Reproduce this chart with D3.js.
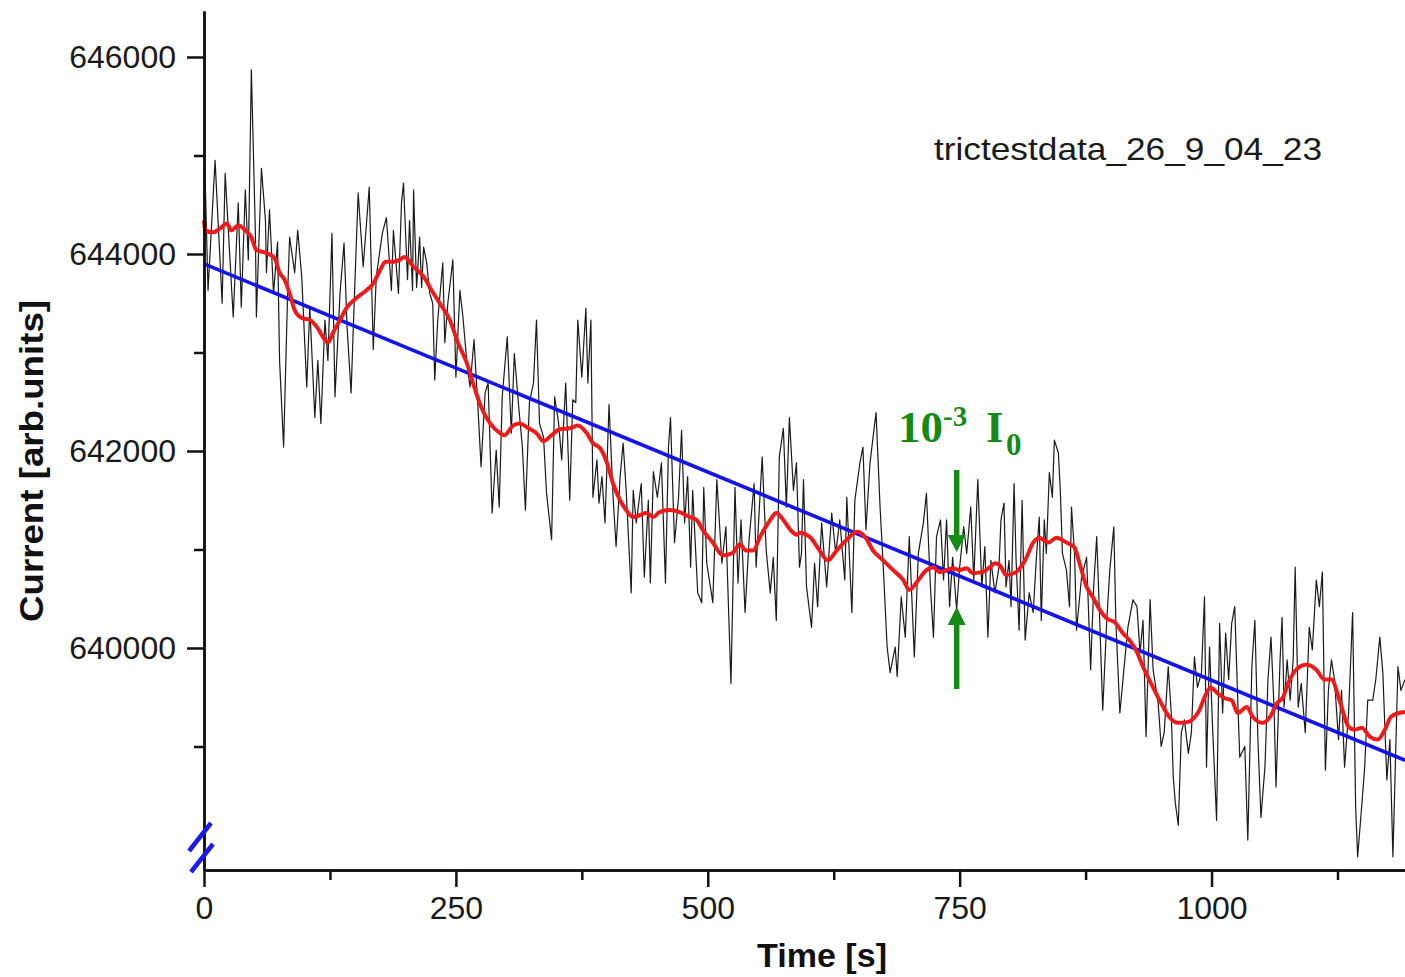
<!DOCTYPE html>
<html>
<head>
<meta charset="utf-8">
<script src="https://cdn.jsdelivr.net/npm/d3@7"></script>
<style>
  body { margin: 0; background: #fff; }
  svg { display: block; }
</style>
</head>
<body>
<div id="chart"></div>
<script>
var svgWidth = 1405;
var svgHeight = 977;

var noiseTime = [0,1,4,11,18,21,24,29,34,37,41,44,47,51,52,57,61,62,65,69,73,75,79,83,85,90,93,97,102,105,110,113,116,120,123,127,130,135,139,142,146,148,153,158,164,168,171,177,181,186,188,193,
  196,198,202,204,207,208,211,214,216,218,221,224,227,229,232,237,239,242,247,250,254,257,261,264,268,272,275,279,282,286,290,293,296,301,305,308,312,316,319,323,327,330,333,337,340,345,348,352,355,359,363,366,369,371,375,379,381,384,386,390,392,
  395,398,402,406,409,413,416,419,424,426,429,434,437,441,443,446,450,454,458,461,463,467,471,474,477,480,483,485,490,494,496,499,505,509,514,518,523,527,530,533,537,541,546,548,554,558,562,565,568,571,575,578,581,585,588,591,
  593,595,598,603,606,609,613,618,623,627,631,636,638,643,646,651,654,657,661,667,671,674,678,681,686,688,692,696,700,705,709,714,717,721,724,727,731,734,737,740,743,747,750,754,757,761,764,768,772,775,778,781,785,789,
  791,794,796,799,801,804,806,809,812,815,819,823,826,829,831,834,836,839,842,844,848,850,852,856,859,861,864,866,871,876,880,883,886,889,892,896,899,903,905,909,913,917,922,926,929,932,935,939,942,947,950,953,957,960,962,964,967,970,973,977,980,983,986,
  990,993,995,998,1001,1005,1008,1011,1014,1017,1020,1023,1026,1028,1033,1036,1040,1043,1046,1049,1053,1056,1059,1062,1064,1068,1070,1072,1075,1078,1081,1083,1086,1089,1093,1097,1100,1104,1107,1110,1113,1116,1119,1122,1126,1129,1132,1136,1140,1143,1145,1149,1152,1155,1160,1163,1167,1170,1174,1177,1180,1185,1188,1192];
var noiseCurrent = [644200,644820,643630,644950,643500,644820,644270,643360,644520,643460,644650,643940,645870,644210,643360,644870,644340,643810,644450,643600,644120,642920,642040,643600,644170,643810,644240,643770,642650,643460,642340,642920,642280,643330,642920,644210,642550,643600,644110,643260,642590,643200,644620,643870,644680,643030,643770,644210,644370,643630,644240,643600,
  644520,644720,643740,644340,643630,644650,643660,644170,643660,644070,643910,643600,643500,642720,643330,643910,643100,643500,643940,642750,643630,643360,642890,642650,643130,642420,641840,642590,642690,641370,642010,641430,642550,643160,642180,642990,642490,642040,641400,642490,642690,643330,642280,642140,641570,641100,642550,642280,641910,642690,641500,642520,642490,643330,642750,643450,642690,643330,641530,641910,641470,
  641740,641270,642470,641530,641030,641740,642080,641600,640560,641600,641270,641670,640720,641500,640660,641790,641530,641880,640660,642040,642340,641070,641530,642210,641270,641740,640820,641600,640560,640460,641630,640860,640460,641710,640860,641230,639640,641630,640660,641300,640360,641100,641670,640820,641940,640990,640560,640920,640280,641940,642230,641430,642340,641600,641880,640820,
  640960,641710,640620,640210,640860,640420,641270,640620,641370,640960,641300,640690,641530,640360,641500,641880,642040,641200,641880,642390,641430,640860,640010,639750,640010,639710,640520,640110,641130,639910,640960,641270,641570,640620,640110,641130,641300,640690,641300,640420,640920,640390,640820,641230,640960,641430,640690,641710,640620,641030,640110,640890,640560,640820,
  641300,641470,640620,640890,640420,641670,640890,640180,641500,640080,640560,640360,640890,641330,640280,641300,640960,641780,641530,642110,641980,641570,640960,640790,640420,641430,640960,640180,640720,640920,639780,640620,641130,640280,639370,640280,640790,641230,640280,639340,639780,640210,640490,640420,639950,640280,639100,640490,639780,639440,639000,639140,639810,639340,638690,638430,638200,639140,639270,638930,639140,639910,639600,
  639750,640520,638790,640010,639200,638250,640250,639340,640150,639680,640250,640420,639470,638890,639000,638050,639810,640280,639070,638280,638790,639680,640110,639400,638590,639880,640310,639400,639880,639470,639880,640820,639400,639640,639140,640210,639980,640690,640420,640770,638760,639570,639880,639680,639070,639570,638790,639340,640360,638390,637880,638390,638790,639470,639470,639680,640110,639750,638660,639070,637880,639810,639570,639680];

// smoothed trace (red)
var smoothTime = [0,1,9,16,23,27,34,41,47,52,62,70,75,80,85,90,97,105,112,118,123,128,135,142,151,161,168,175,180,188,194,199,208,218,226,234,244,252,261,267,275,284,294,298,307,313,322,330,337,345,353,363,371,380,386,393,
  400,406,413,419,426,433,439,446,452,462,472,482,489,495,505,515,524,532,538,545,552,562,568,575,582,588,591,601,611,619,628,638,648,656,664,674,684,694,700,709,717,724,730,737,743,750,757,763,772,780,785,790,
  796,806,815,823,829,838,846,856,864,869,876,882,889,896,904,912,920,925,932,942,950,958,967,977,985,988,993,999,1006,1013,1020,1026,1035,1041,1051,1058,1065,1071,1076,1084,1094,1104,1112,1119,1127,1136,1142,1149,1157,1165,1172,1178,1186,1192];
var smoothCurrent = [644340,644240,644220,644260,644310,644240,644290,644240,644170,644040,644010,643960,643810,643740,643600,643430,643350,643330,643260,643160,643100,643200,643330,643460,643550,643630,643700,643840,643920,643920,643940,643970,643870,643770,643630,643500,643330,643100,642890,642690,642450,642280,642180,642160,642260,642280,642230,642180,642100,642160,642220,642230,642260,642180,642080,642030,
  641880,641670,641500,641400,641330,641350,641370,641330,641380,641400,641380,641330,641300,641200,641070,640940,640960,641050,640990,640990,641130,641300,641370,641300,641200,641150,641170,641130,640990,640890,640990,641100,641180,641130,640990,640890,640790,640690,640590,640690,640790,640820,640770,640790,640810,640790,640810,640760,640770,640820,640860,640840,
  640740,640770,640890,641070,641120,641070,641120,641070,641020,640860,640620,640520,640390,640300,640260,640150,640060,639980,639810,639600,639440,639300,639240,639250,639320,639370,639500,639600,639540,639490,639470,639340,639400,639300,639240,639300,639440,639500,639640,639780,639830,639780,639680,639680,639470,639200,639170,639190,639100,639070,639170,639300,639340,639350];

// linear fit (blue)
var fitTime = [0, 1192];
var fitCurrent = [643900, 638860];

var xMajorTicks = [0, 250, 500, 750, 1000];
var xMinorTicks = [125, 375, 625, 875, 1125];
var yMajorTicks = [640000, 642000, 644000, 646000];
var yMinorTicks = [639000, 641000, 643000, 645000];

var svg = d3.select("#chart")
  .append("svg")
  .attr("width", svgWidth)
  .attr("height", svgHeight);

svg.append("rect").attr("width", svgWidth).attr("height", svgHeight).attr("fill", "#fff");

var x = d3.scaleLinear().domain([0, 1192]).range([204, 1405]);
var y = d3.scaleLinear().domain([637746, 646467]).range([870, 11]);

var line = d3.line()
  .x(d => x(d[0]))
  .y(d => y(d[1]));

// data lines
svg.append("path")
  .datum(noiseTime.map((t, i) => [t, noiseCurrent[i]]))
  .attr("d", line)
  .attr("fill", "none")
  .attr("stroke", "#1a1a1a")
  .attr("stroke-width", 1.2)
  .attr("stroke-linejoin", "round");

svg.append("path")
  .datum(fitTime.map((t, i) => [t, fitCurrent[i]]))
  .attr("d", line)
  .attr("fill", "none")
  .attr("stroke", "#1414e6")
  .attr("stroke-width", 3.6);

svg.append("path")
  .datum(smoothTime.map((t, i) => [t, smoothCurrent[i]]))
  .attr("d", d3.line().x(d => x(d[0])).y(d => y(d[1])).curve(d3.curveMonotoneX))
  .attr("fill", "none")
  .attr("stroke", "#ec1c1c")
  .attr("stroke-width", 4)
  .attr("stroke-linejoin", "round");

// axes
function styleAxis(g) {
  g.selectAll("path, line").attr("stroke", "#111").attr("stroke-width", 2.5);
  g.selectAll("text")
    .attr("fill", "#1a1a1a")
    .style("font-family", "'Liberation Sans', Arial, sans-serif")
    .style("font-size", "32px");
}

svg.append("g")
  .attr("transform", "translate(204,0)")
  .call(d3.axisLeft(y).tickValues(yMinorTicks).tickSize(10).tickSizeOuter(0).tickFormat(""))
  .call(styleAxis);

svg.append("g")
  .attr("transform", "translate(204,0)")
  .call(d3.axisLeft(y).tickValues(yMajorTicks).tickSize(17).tickPadding(11).tickSizeOuter(0).tickFormat(d3.format("d")))
  .call(styleAxis);

svg.append("g")
  .attr("transform", "translate(0,870)")
  .call(d3.axisBottom(x).tickValues(xMinorTicks).tickSize(10).tickSizeOuter(0).tickFormat(""))
  .call(styleAxis);

svg.append("g")
  .attr("transform", "translate(0,870)")
  .call(d3.axisBottom(x).tickValues(xMajorTicks).tickSize(17).tickPadding(9).tickSizeOuter(0).tickFormat(d3.format("d")))
  .call(styleAxis);

// axis titles
svg.append("text")
  .attr("x", 822)
  .attr("y", 967)
  .attr("text-anchor", "middle")
  .attr("textLength", 130)
  .attr("lengthAdjust", "spacingAndGlyphs")
  .style("font-family", "'Liberation Sans', Arial, sans-serif")
  .style("font-weight", "bold")
  .style("font-size", "34px")
  .attr("fill", "#111")
  .text("Time [s]");

svg.append("text")
  .attr("transform", "translate(43,461) rotate(-90)")
  .attr("text-anchor", "middle")
  .attr("textLength", 322)
  .attr("lengthAdjust", "spacingAndGlyphs")
  .style("font-family", "'Liberation Sans', Arial, sans-serif")
  .style("font-weight", "bold")
  .style("font-size", "34px")
  .attr("fill", "#111")
  .text("Current [arb.units]");

// data set name
svg.append("text")
  .attr("x", 934)
  .attr("y", 160)
  .attr("textLength", 388)
  .attr("lengthAdjust", "spacingAndGlyphs")
  .style("font-family", "'Liberation Sans', Arial, sans-serif")
  .style("font-size", "32px")
  .attr("fill", "#1a1a1a")
  .text("trictestdata_26_9_04_23");

// axis break marks
var brk = svg.append("g").attr("stroke", "#1a1aee").attr("stroke-width", 4.5);
brk.append("line").attr("x1", 189).attr("y1", 851).attr("x2", 211).attr("y2", 823);
brk.append("line").attr("x1", 191).attr("y1", 872).attr("x2", 213).attr("y2", 844);

// 10^-3 I0 annotation
var green = "#168a16";
var ann = svg.append("g")
  .attr("fill", green)
  .style("font-family", "'Liberation Serif', 'Times New Roman', serif")
  .style("font-weight", "bold");
ann.append("text").attr("x", 898).attr("y", 442).style("font-size", "45px").text("10");
ann.append("text").attr("x", 943).attr("y", 426).style("font-size", "29px").text("-3");
ann.append("text").attr("x", 986).attr("y", 442).style("font-size", "45px").text("I");
ann.append("text").attr("x", 1006).attr("y", 455).style("font-size", "31px").text("0");

var ax = x(750) - 3;
svg.append("line").attr("x1", ax).attr("x2", ax).attr("y1", 470).attr("y2", 538)
  .attr("stroke", green).attr("stroke-width", 5.5);
svg.append("path").attr("d", `M${ax - 9},535 L${ax + 9},535 L${ax},552 Z`).attr("fill", green);
svg.append("line").attr("x1", ax).attr("x2", ax).attr("y1", 622).attr("y2", 689)
  .attr("stroke", green).attr("stroke-width", 5.5);
svg.append("path").attr("d", `M${ax - 9},625 L${ax + 9},625 L${ax},607 Z`).attr("fill", green);
</script>
</body>
</html>
